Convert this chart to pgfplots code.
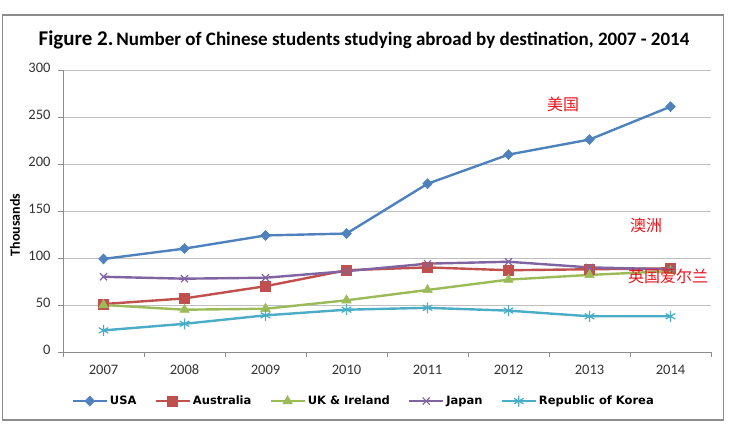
\documentclass[border=0pt]{standalone}
\usepackage{pgfplots}
\pgfplotsset{compat=1.18}
\usepackage{fontspec}
\setmainfont{Carlito}
\newfontfamily\legfont{DejaVu Sans}
\newfontfamily\cjk{Noto Sans CJK SC}
\definecolor{cusa}{HTML}{4F81BD}
\definecolor{caus}{HTML}{C0504D}
\definecolor{cuk}{HTML}{9BBB59}
\definecolor{cjp}{HTML}{8064A2}
\definecolor{ckr}{HTML}{4BACC6}
\definecolor{cred}{HTML}{E8141C}
\begin{document}
\begin{tikzpicture}[x=1pt,y=1pt]
\useasboundingbox (0,0) rectangle (735,428);
\draw[color=black!45, line width=1.2pt] (2.5,8) rectangle (723.5,413);
\node[font=\bfseries] at (364,388) {{\fontsize{21}{21}\selectfont Figure 2.} {\fontsize{19}{19}\selectfont Number of Chinese students studying abroad by destination, 2007 - 2014}};
\node[rotate=90, font=\bfseries\fontsize{14}{14}\selectfont] at (15,203) {Thousands};
\begin{axis}[
  at={(63pt,76pt)}, anchor=south west, scale only axis,
  width=648pt, height=282pt,
  xmin=-0.5, xmax=7.5, ymin=0, ymax=300,
  /pgf/number format/assume math mode=true,
  typeset ticklabels with strut,
  xtick={-0.5,0.5,...,7.5}, xticklabels={},
  extra x ticks={0,1,2,3,4,5,6,7},
  extra x tick labels={2007,2008,2009,2010,2011,2012,2013,2014},
  extra x tick style={major tick length=0pt, xticklabel style={yshift=-9pt}},
  ytick={0,50,...,300},
  yticklabel style={xshift=-4pt},
  ymajorgrids, grid style={black!25, line width=0.8pt},
  axis x line*=bottom, axis y line*=left,
  axis line style={-, draw=black!45, line width=0.8pt},
  tick align=outside, major tick length=5pt,
  tick style={draw=black!45, line width=0.8pt},
  tick label style={font=\fontsize{14.5}{14.5}\selectfont, text=black!80},
  legend columns=5,
  legend style={at={(0.464,-0.174)}, anchor=center, draw=none, fill=none,
    font=\legfont\bfseries\fontsize{11.5}{11.5}\selectfont,
    /tikz/every even column/.append style={column sep=16pt}},
  legend image code/.code={\draw[mark repeat=2,mark phase=2] plot coordinates {(0pt,0pt) (17pt,0pt) (34pt,0pt)};},
  every axis plot/.append style={line width=2.4pt},
]
\addplot[color=cusa, mark=diamond*, mark size=5pt, mark options={solid, line width=0.5pt, xscale=1.3}] coordinates {(0,99) (1,110) (2,124) (3,126) (4,179) (5,210) (6,226) (7,261)};
\addlegendentry{USA}
\addplot[color=caus, mark=square*, mark size=5pt, mark options={solid, line width=0.5pt}] coordinates {(0,51) (1,57) (2,70) (3,87) (4,90) (5,87) (6,88) (7,89)};
\addlegendentry{Australia}
\addplot[color=cuk, mark=triangle*, mark size=5.5pt, mark options={solid, line width=0.5pt}] coordinates {(0,50) (1,45) (2,46) (3,55) (4,66) (5,77) (6,82) (7,86)};
\addlegendentry{UK \& Ireland}
\addplot[color=cjp, mark=x, mark size=5pt, mark options={solid, line width=1.2pt}] coordinates {(0,80) (1,78) (2,79) (3,86) (4,94) (5,96) (6,90) (7,88)};
\addlegendentry{Japan}
\addplot[color=ckr, mark=asterisk, mark size=5.5pt, mark options={solid, line width=1.2pt}] coordinates {(0,23) (1,30) (2,39) (3,45) (4,47) (5,44) (6,38) (7,38)};
\addlegendentry{Republic of Korea}
\end{axis}
\node[text=cred, font=\cjk\fontsize{16}{16}\selectfont] at (563,324) {美国};
\node[text=cred, font=\cjk\fontsize{16}{16}\selectfont] at (646,203) {澳洲};
\node[text=cred, font=\cjk\fontsize{16}{16}\selectfont, anchor=west, inner sep=0pt] at (628,152) {英国爱尔兰};
\end{tikzpicture}
\end{document}
